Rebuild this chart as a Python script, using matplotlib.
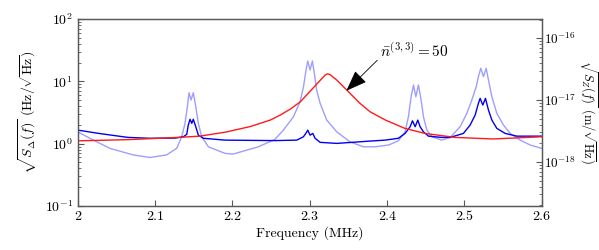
import numpy as np
import matplotlib
matplotlib.use('Agg')
import matplotlib.pyplot as plt
from matplotlib.ticker import FixedLocator, FixedFormatter, LogLocator, NullFormatter

plt.rcParams['font.family'] = 'serif'
plt.rcParams['font.serif'] = ['cmr10', 'DejaVu Serif']
plt.rcParams['mathtext.fontset'] = 'cm'
plt.rcParams['axes.unicode_minus'] = False
plt.rcParams['axes.formatter.use_mathtext'] = True

# bare mode (light blue), Hz/sqrt(Hz)
f_bare = [2.000, 2.0203, 2.0418, 2.0718, 2.0935, 2.115, 2.128, 2.1345, 2.1388,
          2.1418, 2.144, 2.1466, 2.1495, 2.1527, 2.156, 2.1604, 2.169, 2.1906, 2.201,
          2.2336, 2.255, 2.266, 2.279, 2.2876, 2.292, 2.2953, 2.2975, 2.3005, 2.3035,
          2.306, 2.309, 2.3135, 2.322, 2.335, 2.352, 2.3695, 2.3846, 2.402, 2.4147,
          2.4234, 2.4277, 2.4312, 2.4342, 2.4373, 2.4406, 2.4441, 2.4471, 2.4515, 2.458,
          2.4709, 2.4816, 2.4946, 2.5032, 2.5097, 2.5153, 2.5182, 2.5213, 2.5247, 2.5282,
          2.5312, 2.5356, 2.542, 2.5506, 2.5593, 2.5722, 2.5851, 2.600]
s_bare = [1.55, 1.14, 0.84, 0.66, 0.60, 0.66, 0.84, 1.29, 2.12,
          3.91, 6.56, 5.01, 6.56, 3.91, 2.12, 1.29, 0.891, 0.698, 0.681,
          0.891, 1.17, 1.65, 2.70, 4.71, 8.18, 15.2, 21.2, 15.2, 21.2,
          13.4, 7.24, 4.44, 2.39, 1.55, 1.07, 0.891, 0.891, 0.951, 1.11,
          1.55, 2.70, 5.66, 8.73, 5.66, 8.73, 5.01, 2.70, 1.65, 1.29,
          1.14, 1.26, 1.87, 3.06, 5.01, 8.18, 11.9, 16.2, 11.9, 16.2,
          10.5, 5.66, 3.06, 1.99, 1.46, 1.14, 0.951, 0.841]

# squeezed / measured (dark blue)
f_meas = [2.000, 2.029, 2.065, 2.0935, 2.126, 2.1366, 2.141, 2.143, 2.1453, 2.1475,
          2.1495, 2.1527, 2.156, 2.1625, 2.1906, 2.255, 2.2833, 2.2919, 2.2953, 2.2975,
          2.3005, 2.304, 2.307, 2.3135, 2.335, 2.378, 2.3975, 2.4147, 2.4234, 2.4299,
          2.4329, 2.4364, 2.4398, 2.4428, 2.4471, 2.4536, 2.4709, 2.4816, 2.4988, 2.5075,
          2.514, 2.5182, 2.5204, 2.5239, 2.5273, 2.5312, 2.5356, 2.542, 2.5528, 2.5679,
          2.600]
s_meas = [1.65, 1.45, 1.26, 1.22, 1.23, 1.29, 1.41, 1.99, 2.46, 2.12,
          2.46, 1.87, 1.37, 1.22, 1.14, 1.12, 1.14, 1.29, 1.48, 1.65,
          1.37, 1.46, 1.22, 1.05, 1.01, 1.10, 1.14, 1.22, 1.46, 1.87,
          2.33, 1.87, 2.39, 1.87, 1.55, 1.32, 1.26, 1.26, 1.46, 1.99,
          2.88, 4.44, 5.33, 4.17, 5.33, 3.46, 2.39, 1.76, 1.46, 1.32,
          1.32]

# thermal-state mode, nbar = 50 (red)
f_n50 = [2.000, 2.065, 2.130, 2.158, 2.191, 2.223, 2.249, 2.262, 2.275, 2.288,
         2.300, 2.314, 2.320, 2.323, 2.326, 2.335, 2.348, 2.365, 2.378, 2.398,
         2.423, 2.449, 2.488, 2.537, 2.600]
s_n50 = [1.11, 1.16, 1.26, 1.32, 1.53, 1.88, 2.39, 2.88, 3.59, 4.71,
         6.81, 10.5, 12.6, 13.2, 12.9, 10.5, 7.24, 4.44, 3.25, 2.39,
         1.76, 1.46, 1.26, 1.19, 1.29]

xticks = [2, 2.1, 2.2, 2.3, 2.4, 2.5, 2.6]
xticklabels = ['2', '2.1', '2.2', '2.3', '2.4', '2.5', '2.6']
right_ticks = [1e-18, 1e-17, 1e-16]

fig = plt.figure(figsize=(5.99, 2.5), dpi=100)
ax = fig.add_axes([0.1297, 0.176, 0.7746, 0.748])

ax.plot(f_bare, s_bare, color=(0.62, 0.62, 1.0), lw=1.0)
ax.plot(f_meas, s_meas, color=(0.0, 0.0, 0.95), lw=1.0)
ax.plot(f_n50, s_n50, color=(1.0, 0.1, 0.1), lw=1.0)

ax.set_yscale('log')
ax.set_xlim(2, 2.6)
ax.set_ylim(0.1, 100)
ax.xaxis.set_major_locator(FixedLocator(xticks))
ax.xaxis.set_major_formatter(FixedFormatter(xticklabels))
ax.set_xlabel('Frequency (MHz)', fontsize=10, labelpad=2)
ax.set_ylabel(r'$\sqrt{S_\Delta(f)}$ (Hz/$\sqrt{\mathrm{Hz}}$)', fontsize=10, labelpad=4)
ax.tick_params(which='both', direction='in', top=False, right=False, labelsize=10, colors='k')
ax.tick_params(which='major', length=4, color='0.35')
ax.tick_params(which='minor', length=2, color='0.35')

ax.annotate(r'$\bar{n}^{(3,3)}=50$', xy=(2.3474, 7.06), xytext=(2.391, 30.5),
            fontsize=11, ha='left', va='center',
            arrowprops=dict(arrowstyle='-|>,head_length=1.2,head_width=0.45',
                            color='k', lw=0.6, shrinkA=0, shrinkB=0,
                            relpos=(0.0, 0.15)))

ax2 = ax.twinx()
ax2.set_yscale('log')
ax2.set_ylim(10**-18.71, 10**-15.69)
ax2.yaxis.set_major_locator(FixedLocator(right_ticks))
ax2.yaxis.set_minor_locator(LogLocator(base=10, subs=np.arange(2, 10), numticks=10))
ax2.yaxis.set_minor_formatter(NullFormatter())
ax2.tick_params(which='both', direction='in', labelsize=9.5, pad=2)
ax2.tick_params(which='major', length=4, color='0.35')
ax2.tick_params(which='minor', length=2, color='0.35')
ax2.set_ylabel(r'$\sqrt{S_Z(f)}$ (m/$\sqrt{\mathrm{Hz}}$)', fontsize=9, rotation=270,
               va='center', ha='center')
ax2.yaxis.set_label_coords(1.101, 0.5)

for a in (ax, ax2):
    for sp in a.spines.values():
        sp.set_color('0.35')
        sp.set_linewidth(0.9)

fig.savefig('out.png', dpi=100)
